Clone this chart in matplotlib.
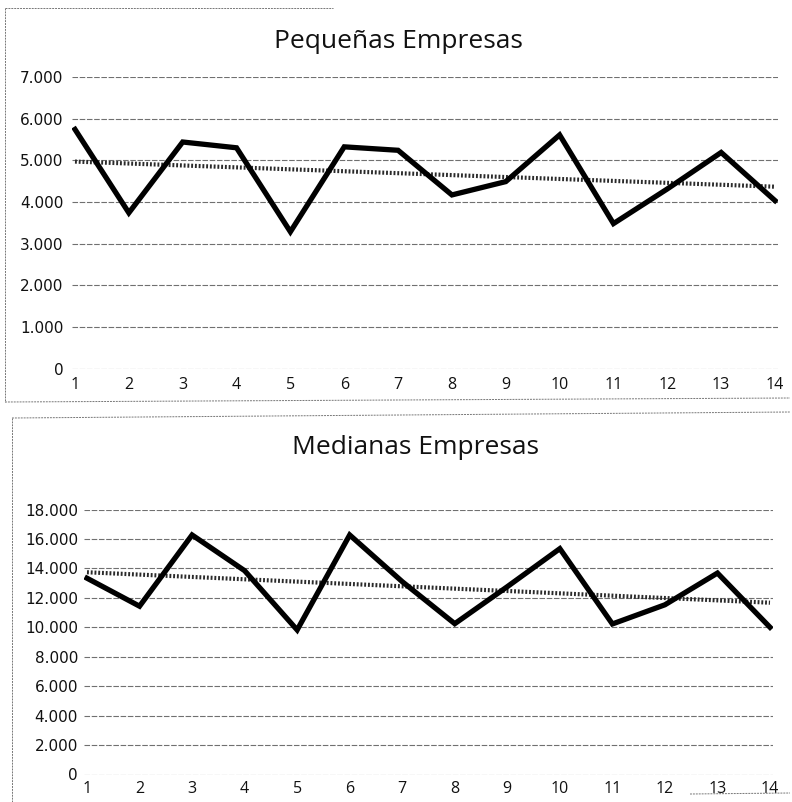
import matplotlib
matplotlib.use("Agg")
import matplotlib.pyplot as plt
import numpy as np
from matplotlib.lines import Line2D
from matplotlib.ticker import FuncFormatter

periodos = list(range(1, 15))
pequenas = [5742, 3738, 5439, 5300, 3283, 5323, 5240, 4168, 4488, 5609, 3480, 4312, 5188, 4032]
medianas = [13333, 11432, 16270, 13844, 9818, 16270, 13100, 10244, 12759, 15341, 10225, 11528, 13682, 10000]
titulos = ["Pequeñas Empresas", "Medianas Empresas"]


def _miles(v, pos):
    return f"{int(v):,}".replace(",", ".")


def _panel(fig, rect, x, y, ymax, ystep, ypad, xpad):
    ax = fig.add_axes(rect)
    ax.plot(x, y, color="black", lw=3.8, solid_joinstyle="miter", zorder=3)
    # linea de tendencia (lineal)
    coef = np.polyfit(x, y, 1)
    ax.plot(x, np.polyval(coef, x), color="#2a2a2a", lw=3.0,
            linestyle=(0, (0.45, 0.45)), zorder=2)
    ax.set_xlim(0.95, 14.05)
    ax.set_ylim(0, ymax)
    ax.set_yticks(np.arange(0, ymax + 1, ystep))
    ax.yaxis.set_major_formatter(FuncFormatter(_miles))
    ax.set_xticks(x)
    ax.grid(axis="y", color="#707070", lw=0.8, linestyle=(0, (5, 1.5)))
    ax.set_axisbelow(True)
    for s in ax.spines.values():
        s.set_visible(False)
    ax.tick_params(length=0)
    ax.tick_params(axis="y", pad=ypad, labelsize=11, labelcolor="#111111")
    ax.tick_params(axis="x", pad=xpad, labelsize=11.5, labelcolor="#111111")
    for t in ax.get_yticklabels():
        t.set_family("DejaVu Sans")
    for t in ax.get_xticklabels():
        t.set_family("Open Sans")
    return ax


fig = plt.figure(figsize=(7.92, 8.02), dpi=100)
W, H = 792.0, 802.0

# panel superior: 1 -> x=75, 14 -> x=775 ; 7000 -> y=77, 0 -> y=368.5
u = 700 / 13
x0 = 75 - 0.05 * u
_panel(fig, [x0 / W, 1 - 368.5 / H, (700 + 0.1 * u) / W, (368.5 - 77) / H],
       periodos, pequenas, 7000, 1000, 6.5, 6.0)

# panel inferior: 1 -> x=87, 14 -> x=770 ; 18000 -> y=509.5, 0 -> y=774.5
u2 = 683 / 13
x1 = 87 - 0.05 * u2
_panel(fig, [x1 / W, 1 - 774.5 / H, (683 + 0.1 * u2) / W, (774.5 - 509.5) / H],
       periodos, medianas, 18000, 2000, 4.5, 5.0)

fig.text(398 / W, 1 - 41 / H, titulos[0], ha="center", va="center",
         fontsize=19, family="Open Sans", color="#111111")
fig.text(415 / W, 1 - 447 / H, titulos[1], ha="center", va="center",
         fontsize=19, family="Open Sans", color="#111111")

# bordes de los graficos (escaneados)
borde = dict(color="#777777", lw=0.7, linestyle=(0, (2, 1)))
fig.add_artist(Line2D([5 / W, 5 / W], [1 - 8 / H, 1 - 402 / H], **borde))
fig.add_artist(Line2D([5 / W, 333 / W], [1 - 8 / H, 1 - 8 / H], **borde))
fig.add_artist(Line2D([5 / W, 790 / W], [1 - 402 / H, 1 - 398 / H], **borde))
fig.add_artist(Line2D([12 / W, 790 / W], [1 - 418 / H, 1 - 412 / H], **borde))
fig.add_artist(Line2D([12 / W, 12 / W], [1 - 418 / H, 0], **borde))
fig.add_artist(Line2D([690 / W, 790 / W], [1 - 794 / H, 1 - 793 / H], **borde))

plt.savefig("out.png", dpi=100)
